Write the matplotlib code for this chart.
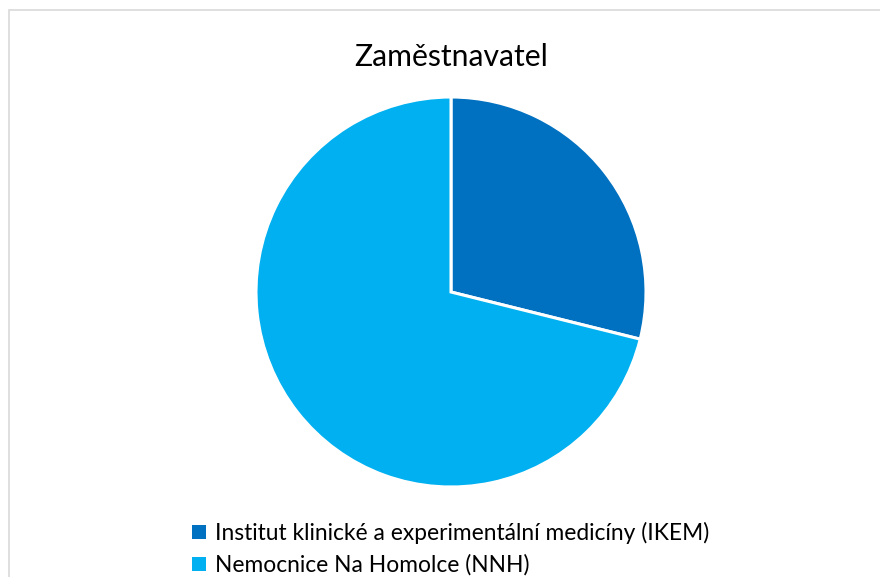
import matplotlib
matplotlib.use("Agg")
import matplotlib.pyplot as plt
from matplotlib.patches import Rectangle

title = "Zaměstnavatel"
categories = ["Institut klinické a experimentální medicíny (IKEM)", "Nemocnice Na Homolce (NNH)"]
values = [13, 32]
colors = ["#0070C0", "#00B0F0"]

W, H = 880, 577
fig = plt.figure(figsize=(W / 100, H / 100), dpi=100)
fig.patch.set_facecolor("white")

# chart border (only top and left visible in the crop)
fig.patches.append(Rectangle((9 / W, -0.1), 1.2, 1 - 10 / H + 0.1, transform=fig.transFigure,
                             fill=False, edgecolor="#D9D9D9", linewidth=1.2))

cx, cy, r = 451, 292, 195
ax = fig.add_axes([(cx - r) / W, 1 - (cy + r) / H, 2 * r / W, 2 * r / H])
wedges, _ = ax.pie(values, colors=colors, startangle=90, counterclock=False, radius=1,
                   wedgeprops=dict(edgecolor="white", linewidth=2.2))
ax.set_xlim(-1, 1)
ax.set_ylim(-1, 1)
ax.set_aspect("equal")
ax.axis("off")

font = "Lato"
fig.text(451 / W, 1 - 57 / H, title, ha="center", va="center", fontsize=21.7, family=font)

leg = fig.legend(wedges, categories, loc="upper left", bbox_to_anchor=(192 / W, 1 - 522 / H),
                 frameon=False, prop=dict(family=font, size=16.4), handlelength=0.6,
                 handleheight=0.6, handletextpad=0.4, labelspacing=0.45, borderpad=0, borderaxespad=0)
for h in leg.legend_handles:
    h.set_edgecolor("none")

fig.savefig("out.png", dpi=100)
